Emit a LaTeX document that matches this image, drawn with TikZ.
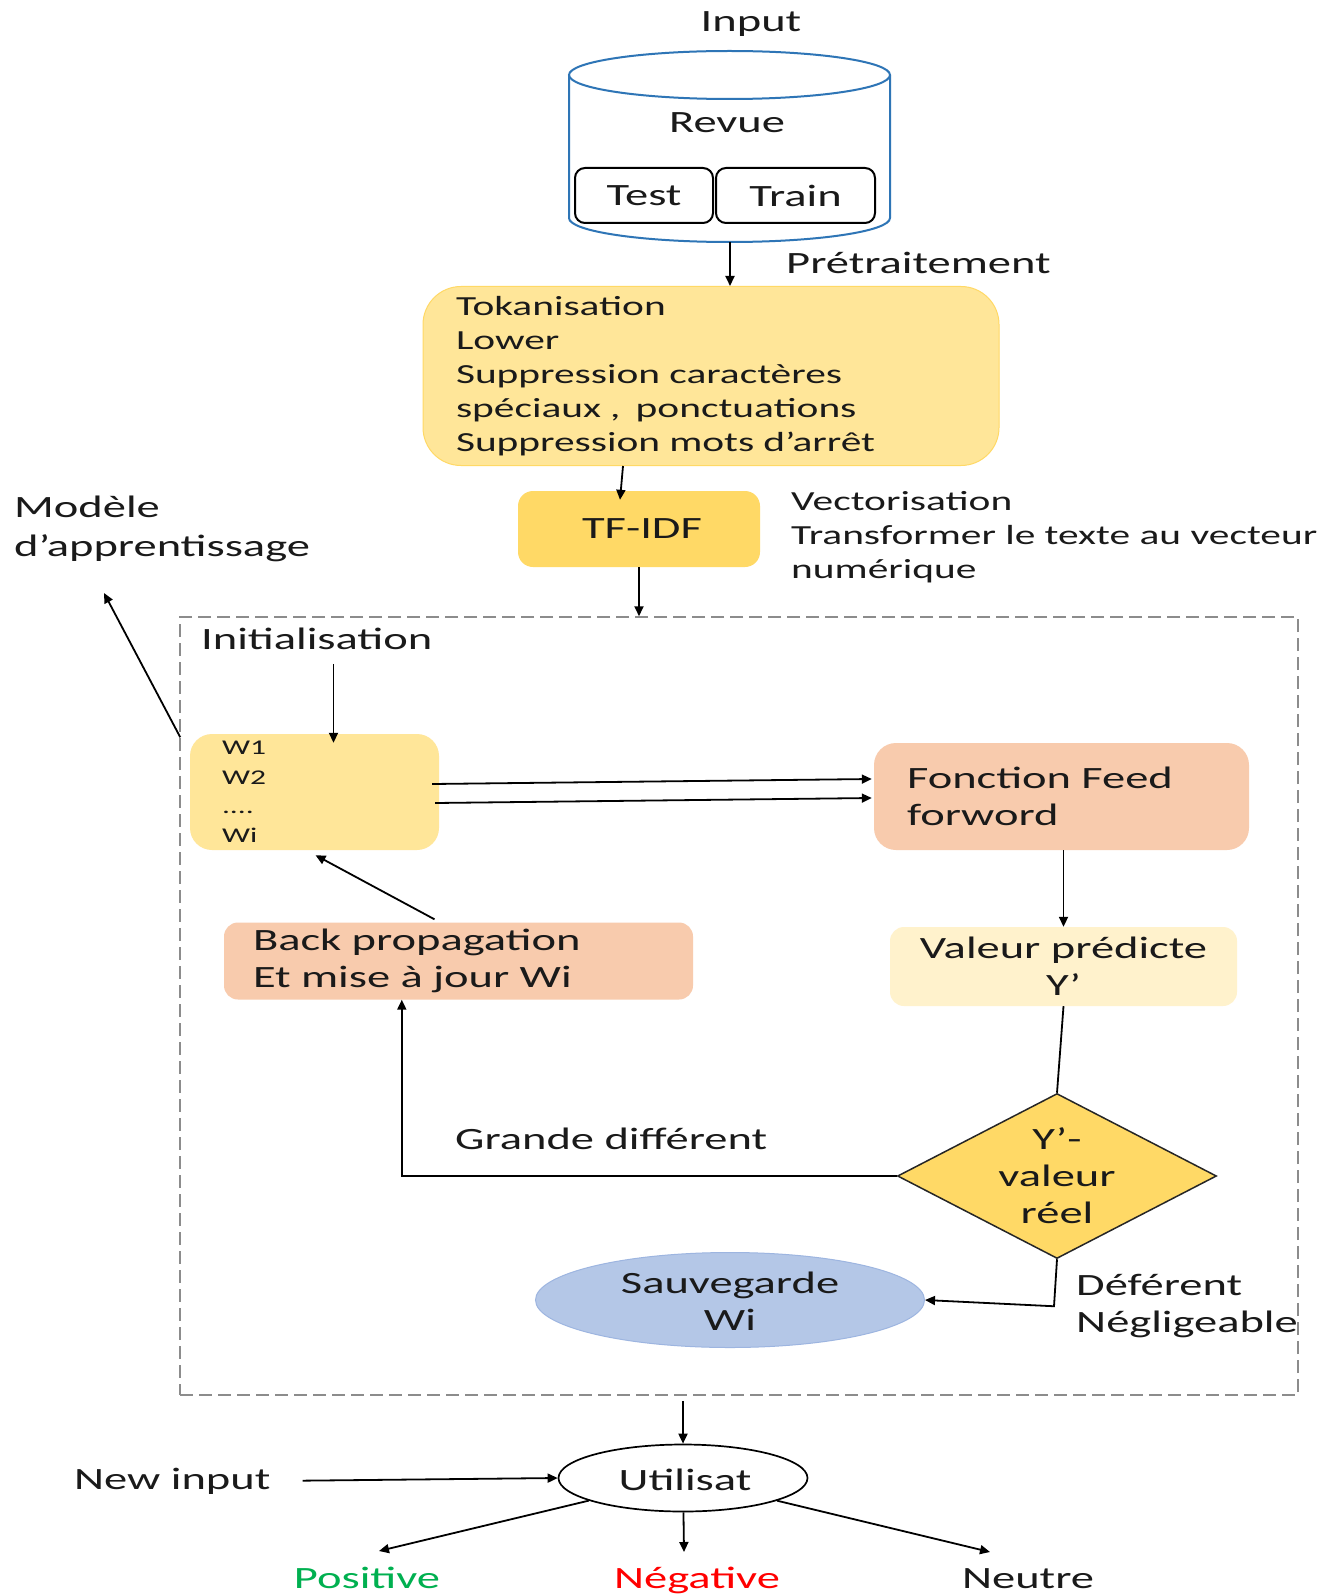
\documentclass[tikz,border=0pt]{standalone}
\usepackage{fontspec}
\setmainfont{Carlito}[FakeStretch=1.5]
\usetikzlibrary{arrows.meta,shapes.geometric,calc}

\definecolor{cylblue}{HTML}{2E75B6}
\definecolor{ylight}{HTML}{FFE699}
\definecolor{ydark}{HTML}{FFD966}
\definecolor{ypale}{HTML}{FFF2CC}
\definecolor{peach}{HTML}{F8CBAD}
\definecolor{sblue}{HTML}{B4C7E7}
\definecolor{sbluedraw}{HTML}{9DB5E0}
\definecolor{posgreen}{HTML}{00B050}
\definecolor{negred}{HTML}{FF0000}
\definecolor{dashgray}{HTML}{8C8C8C}
\definecolor{ink}{HTML}{1A1A1A}

\newcommand\mainsz{\fontsize{31}{37}\selectfont}
\newcommand\smallsz{\fontsize{27.6}{34}\selectfont}
\newcommand\wsz{\fontsize{21}{29.3}\selectfont}

\tikzset{
  arr/.style={-{Triangle[length=10pt,width=9pt]}, line width=1.8pt},
  link/.style={line width=1.8pt},
  lbl/.style={inner sep=0pt, font=\mainsz, text=ink},
  panel/.style={inner sep=0pt, font=\mainsz, text=ink},
}

\begin{document}
\begin{tikzpicture}[x=1pt,y=-1pt]
\useasboundingbox (0,0) rectangle (1336,1594);
\fill[white] (0,0) rectangle (1336,1594);

% ---- input database (cylinder) ----
\draw[cylblue, line width=2pt, fill=white]
  (569,75) -- (569,218) arc[start angle=180, end angle=360, x radius=160.5pt, y radius=24pt] -- (890,75);
\draw[cylblue, line width=2pt] (729.5,75) ellipse[x radius=160.5pt, y radius=24pt];
\coordinate (dbbot) at (730,242);

\node[lbl] (input) at (751,24) {Input};
\node[lbl] (revue) at (727,123) {Revue};
\node[panel, draw, line width=2pt, rounded corners=10pt, minimum width=138pt, minimum height=55pt] (test) at (644,195.5) {Test};
\node[panel, draw, line width=2pt, rounded corners=10pt, minimum width=159pt, minimum height=55pt] (trainset) at (795.5,195.5) {Train};

\node[lbl, anchor=west] (pretlbl) at (786,263) {Prétraitement};

% ---- preprocessing ----
\node[panel, fill=ylight, draw=ydark, line width=1pt, rounded corners=38pt,
      minimum width=576pt, minimum height=179pt, text width=510pt, align=left, font=\smallsz]
  (pre) at (711,376)
  {Tokanisation\\Lower\\Suppression caractères\\spéciaux ,\hspace{0.55em}ponctuations\\Suppression mots d’arrêt};

\node[panel, fill=ydark, rounded corners=15pt, minimum width=242pt, minimum height=76pt] (tfidf) at (639,529) {\hspace*{6pt}TF-IDF};

\node[inner sep=0pt, anchor=west, align=left, font=\smallsz, text=ink] (vec) at (791,537)
  {Vectorisation\\Transformer le texte au vecteur\\numérique};

\node[inner sep=0pt, anchor=west, align=left, font=\fontsize{31}{39}\selectfont, text=ink] (mdl) at (14,529)
  {Modèle\\d’apprentissage};

% ---- training loop ----
\node[draw=dashgray, dash pattern=on 13pt off 6pt, line width=1.5pt, minimum width=1118pt, minimum height=778pt, inner sep=0pt]
  (loop) at (739,1006) {};

\node[lbl, anchor=west] (init) at (201,639) {Initialisation};

\node[panel, fill=ylight, rounded corners=22pt, minimum width=249pt, minimum height=116pt,
      text width=185pt, align=left, font=\wsz] (wbox) at (314.5,792) {W1\\W2\\....\\Wi};

\node[panel, fill=peach, rounded corners=22pt, minimum width=375pt, minimum height=107pt,
      text width=309pt, align=left] (ff) at (1061.5,796.5) {Fonction Feed\\forword};

\node[panel, fill=ypale, rounded corners=14pt, minimum width=347pt, minimum height=79pt,
      align=center] (val) at (1063.5,966.5) {Valeur prédicte\\Y’};

\node[panel, fill=peach, rounded corners=14pt, minimum width=469pt, minimum height=77pt,
      text width=411pt, align=left] (back) at (458.5,961) {Back propagation\\Et mise à jour Wi};

\node[diamond, draw=black!85, line width=1.5pt, fill=ydark, minimum width=319pt, minimum height=165pt, inner sep=0pt]
  (dec) at (1057,1176) {};
\node[panel, align=center] (dectxt) at (1057,1176) {Y’-\\valeur\\réel};

\node[lbl, anchor=west] (gd) at (455,1139) {Grande différent};

\node[ellipse, fill=sblue, draw=sbluedraw, line width=1pt, minimum width=389pt, minimum height=95pt, inner sep=0pt]
  (sv) at (730,1300) {};
\node[panel, align=center] (svtxt) at (730,1301) {Sauvegarde\\Wi};

\node[panel, anchor=west, align=left] (negl) at (1076,1306) {Déférent\\Négligeable};

% ---- usage ----
\node[ellipse, draw, line width=1.7pt, minimum width=249pt, minimum height=67pt, inner sep=0pt] (util) at (683,1478) {};
\node[lbl] (utiltxt) at (685,1480) {Utilisat};

\node[lbl, anchor=west] (newin) at (74,1481) {New input};

\node[lbl, anchor=base, text=posgreen] (pos) at (367,1588) {Positive};
\node[lbl, anchor=base, text=negred] (negv) at (697,1588) {Négative};
\node[lbl, anchor=base] (neu) at (1028,1588) {Neutre};

% ---- connectors ----
\draw[arr] (dbbot) -- (dbbot |- pre.north);
\draw[arr] ($(pre.south)+(-88,0)$) -- ($(tfidf.north)+(-19,9)$);
\draw[arr] (tfidf.south) -- (tfidf.south |- loop.north);

\coordinate (mdlout) at ($(loop.north west)+(1,121)$);
\coordinate (mdltip) at (104,593);
\draw[arr] (mdlout) -- (mdltip);

\draw[arr] ($(wbox.north)+(19,-70)$) -- ($(wbox.north)+(19,9)$);
\draw[arr] ($(wbox.east)+(-7,-8)$) -- ($(ff.west)+(-2,-17.5)$);
\draw[arr] ($(wbox.east)+(-4,11)$) -- ($(ff.west)+(-2,1.5)$);
\draw[arr] (val.north |- ff.south) -- (val.north);
\draw[link] (val.south) -- (dec.north);
\draw[arr] (dec.west) -| ($(back.south west)+(178,0)$);
\draw[arr] ($(back.north)+(-24,-3)$) -- ($(wbox.south)+(1,5)$);
\draw[arr] (dec.south) -- ($(dec.south)+(-3,47)$) -- (sv.east);

\draw[arr, shorten <=5pt] (loop.south -| util.north) -- (util.north);
\draw[arr, shorten <=32pt] (newin.east) -- (util.west);
\draw[arr] (util) -- ($(pos.base)+(12,-37)$);
\draw[arr] (util) -- ($(negv.base)+(-13,-36)$);
\draw[arr] (util) -- ($(neu.base)+(-38,-36)$);
\end{tikzpicture}
\end{document}
